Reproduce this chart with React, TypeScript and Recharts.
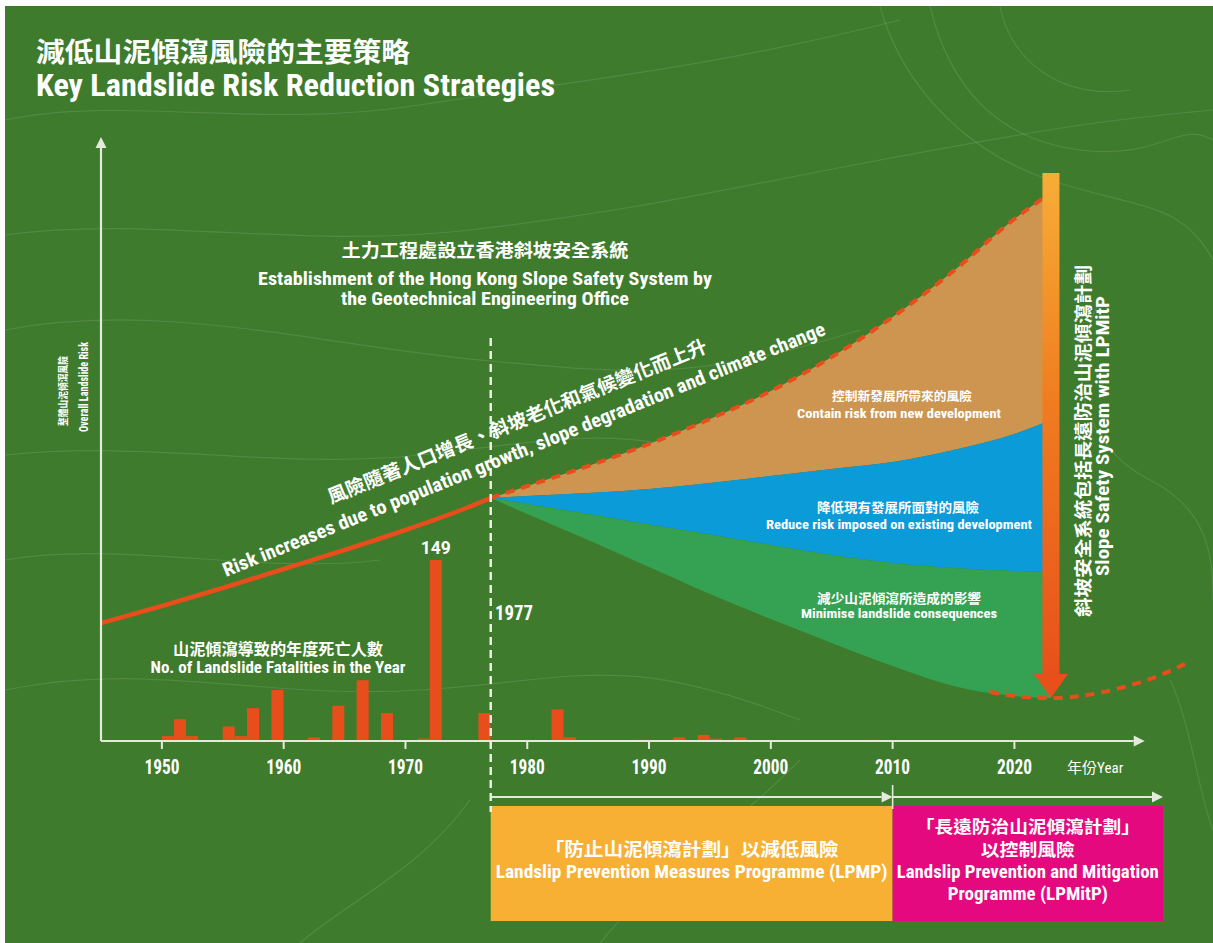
import React from 'react';
import { ComposedChart, Bar, Line, Area, XAxis, YAxis, ReferenceLine, ReferenceArea, LabelList } from 'recharts';

// ---------- data ----------
const fatalityYears = [1950, 1951, 1952, 1955, 1956, 1957, 1959, 1962, 1964, 1966, 1968, 1971, 1972, 1976, 1982, 1983, 1989, 1992, 1994, 1995, 1997, 2008];
const fatalityCounts = [4, 18, 4, 12, 4, 27, 42, 3, 29, 50, 23, 2, 149, 23, 26, 3, 1, 3, 5, 2, 3, 1];

const riskPastYears = [1945, 1950, 1955, 1960, 1965, 1970, 1975, 1977];
const riskPastValues = [118, 135, 153, 172, 191, 211, 233, 243];

const fanYears = [1977, 1980, 1985, 1990, 1995, 2000, 2005, 2010, 2015, 2020, 2023];
const riskProjected = [243, 255, 275, 297, 322, 350, 384, 424, 470, 522, 548];
const afterNewDevControl = [243, 245, 248, 252, 258, 265, 272, 279, 291, 307, 321];
const afterExistingReduction = [243, 237, 227, 216.5, 206.5, 196, 186, 178, 173, 170, 169];
const afterConsequenceMitigation = [243, 227, 201, 174, 147, 122, 98, 75, 55, 45, 43];

const residualYears = [2018, 2020, 2023, 2026, 2029, 2032, 2034];
const residualRisk = [49, 45, 43, 46, 54, 66, 77];

const xTicks = [1950, 1960, 1970, 1980, 1990, 2000, 2010, 2020];

// annotation anchors (years / risk-index units)
const axisOriginYear = 1945;
const xAxisEndYear = 2030.7;
const yAxisTopValue = 604;
const establishmentYear = 1977;
const lpmpEndYear = 2010;
const lpmitpEndYear = 2032.2;
const sssYear = 2023;
const sssTop = 568;
const sssBottom = 43;

// ---------- tables ----------
const fatalityData = fatalityYears.map((year, i) => ({ year, deaths: fatalityCounts[i] }));
const pastData = riskPastYears.map((year, i) => ({ year, risk: riskPastValues[i] }));
const fanData = fanYears.map((year, i) => ({
  year,
  top: riskProjected[i],
  ob: afterNewDevControl[i],
  bg: afterExistingReduction[i],
  bottom: afterConsequenceMitigation[i],
}));
const residualData = residualYears.map((year, i) => ({ year, risk: residualRisk[i] }));
const maxDeaths = Math.max(...fatalityCounts);

// ---------- styles ----------
const W = 1213;
const H = 943;
const EN = "'Liberation Sans Narrow','Arial Narrow','Roboto','DejaVu Sans Condensed',sans-serif";
const CJK = "'Noto Sans CJK TC','Noto Sans CJK SC',sans-serif";
const RED = '#e84e1b';
const AXIS = '#e3eadb';

function T(props: any) {
  const { x, y, s, len, a = 'middle', f = EN, w = 700, rot, children, fill = '#fff' } = props;
  return (
    <text
      x={x}
      y={y}
      fontSize={s}
      fontFamily={f}
      fontWeight={w}
      fontStretch="condensed"
      textAnchor={a}
      fill={fill}
      textLength={len}
      lengthAdjust={len ? 'spacingAndGlyphs' : undefined}
      transform={rot !== undefined ? `rotate(${rot} ${x} ${y})` : undefined}
    >
      {children}
    </text>
  );
}

const contours = [
  'M5,120 C120,95 260,130 420,105 S700,70 900,20',
  'M5,235 C150,215 300,250 470,230 S720,190 880,160 S1100,120 1213,110',
  'M5,330 C160,300 320,345 480,360 S700,380 860,330',
  'M5,455 C150,440 280,470 420,455 S620,420 760,470',
  'M5,560 C120,540 260,575 380,560',
  'M5,690 C150,660 260,700 420,690 S620,650 800,720',
  'M880,6 C900,80 960,150 1050,180 S1180,200 1213,260',
  'M930,6 C950,90 1000,140 1080,150 S1180,120 1213,140',
  'M1000,6 C1010,60 1060,100 1130,90',
  'M1100,300 C1060,380 1090,450 1150,480 S1213,560 1213,600',
  'M600,943 C650,880 720,840 800,760',
  'M300,943 C350,900 420,870 470,800',
  'M1170,680 C1190,720 1200,800 1213,830',
];

const ArrowLine = (p: any) => {
  const { x1, y1, x2, y2 } = p;
  const ang = Math.atan2(y2 - y1, x2 - x1);
  const L = 11;
  const hw = 5.5;
  const bx = x2 - L * Math.cos(ang);
  const by = y2 - L * Math.sin(ang);
  const nx = -Math.sin(ang);
  const ny = Math.cos(ang);
  return (
    <g>
      <line x1={x1} y1={y1} x2={bx} y2={by} stroke={AXIS} strokeWidth={2.2} />
      <polygon points={`${x2},${y2} ${bx + nx * hw},${by + ny * hw} ${bx - nx * hw},${by - ny * hw}`} fill={AXIS} />
    </g>
  );
};

const SssArrow = (p: any) => {
  const { x1, y1, y2 } = p;
  const hw = 8.5;
  const head = 24;
  const hhw = 17;
  return (
    <g>
      <defs>
        <linearGradient id="sssGrad" x1="0" y1="0" x2="0" y2="1">
          <stop offset="0" stopColor="#f7ad37" />
          <stop offset="0.45" stopColor="#f07d20" />
          <stop offset="1" stopColor="#e8501b" />
        </linearGradient>
      </defs>
      <rect x={x1 - hw} y={y1} width={hw * 2} height={y2 - y1 - head + 1} fill="url(#sssGrad)" />
      <polygon points={`${x1},${y2} ${x1 - hhw},${y2 - head} ${x1 + hhw},${y2 - head}`} fill="#e8501b" />
    </g>
  );
};

const DashedVertical = (p: any) => (
  <line x1={p.x1} y1={p.y1} x2={p.x2} y2={p.y2} stroke="#f2f2ea" strokeWidth={2.4} strokeDasharray="8 5" />
);

const PlainLine = (p: any) => (
  <line x1={p.x1} y1={p.y1} x2={p.x2} y2={p.y2} stroke={AXIS} strokeWidth={1.6} />
);

const LpmpBox = (p: any) => {
  const cx = p.x + p.width / 2;
  return (
    <g>
      <rect x={p.x} y={p.y} width={p.width} height={p.height} fill="#f7b033" />
      <T x={cx} y={p.y + 50} s={18} f={CJK} len={294}>「防止山泥傾瀉計劃」以減低風險</T>
      <T x={cx} y={p.y + 72} s={18} len={392}>Landslip Prevention Measures Programme (LPMP)</T>
    </g>
  );
};

const LpmitpBox = (p: any) => {
  const cx = p.x + p.width / 2;
  return (
    <g>
      <rect x={p.x} y={p.y} width={p.width} height={p.height} fill="#e4097f" />
      <T x={cx} y={p.y + 27} s={17} f={CJK} len={224}>「長遠防治山泥傾瀉計劃」</T>
      <T x={cx} y={p.y + 50} s={17} f={CJK} len={94}>以控制風險</T>
      <T x={cx} y={p.y + 72} s={17.5} len={262}>Landslip Prevention and Mitigation</T>
      <T x={cx} y={p.y + 94} s={17.5} len={160}>Programme (LPMitP)</T>
    </g>
  );
};

const BarShape = (p: any) => (
  <rect x={p.x + p.width / 2} y={p.y} width={p.width} height={Math.max(0, p.height)} fill={RED} />
);

const YearTick = (p: any) => (
  <text
    x={p.x}
    y={p.y}
    dy={25}
    textAnchor="middle"
    fill="#fff"
    fontSize={20}
    fontWeight={700}
    fontFamily={EN}
    fontStretch="condensed"
    textLength={35}
    lengthAdjust="spacingAndGlyphs"
  >
    {p.payload.value}
  </text>
);

export default function App() {
  return (
    <div style={{ position: 'absolute', left: 0, top: 0, width: W, height: H, overflow: 'hidden', background: '#fff' }}>
      <svg width={W} height={H} style={{ position: 'absolute', left: 0, top: 0 }}>
        <rect x={5} y={6} width={W - 5} height={H - 6} fill="#3e7b2d" />
        {contours.map((d, i) => (
          <path key={i} d={d} fill="none" stroke="#ffffff" strokeOpacity={0.11} strokeWidth={1.2} />
        ))}
      </svg>
      <div style={{ position: 'absolute', left: 0, top: 0 }}>
        <ComposedChart
          width={W}
          height={H}
          data={fatalityData}
          margin={{ top: 120, right: 22, bottom: 172, left: 101 }}
        >
          <XAxis
            dataKey="year"
            type="number"
            domain={[axisOriginYear, 2034.5]}
            allowDataOverflow
            ticks={xTicks}
            interval={0}
            height={30}
            axisLine={false}
            tickSize={8}
            tickMargin={0}
            tickLine={{ stroke: AXIS, strokeWidth: 2 }}
            tick={<YearTick />}
          />
          <YAxis yAxisId="fat" type="number" domain={[0, 511]} allowDataOverflow hide />
          <YAxis yAxisId="risk" type="number" domain={[0, 621]} allowDataOverflow hide />

          <Area
            yAxisId="risk"
            data={fanData}
            dataKey={(d: any) => [d.ob, d.top]}
            type="monotone"
            fill="#cd9550"
            fillOpacity={1}
            stroke="none"
            isAnimationActive={false}
            dot={false}
            activeDot={false}
          />
          <Area
            yAxisId="risk"
            data={fanData}
            dataKey={(d: any) => [d.bg, d.ob]}
            type="monotone"
            fill="#0b9bd9"
            fillOpacity={1}
            stroke="none"
            isAnimationActive={false}
            dot={false}
            activeDot={false}
          />
          <Area
            yAxisId="risk"
            data={fanData}
            dataKey={(d: any) => [d.bottom, d.bg]}
            type="monotone"
            fill="#35a253"
            fillOpacity={1}
            stroke="none"
            isAnimationActive={false}
            dot={false}
            activeDot={false}
          />

          <Bar yAxisId="fat" dataKey="deaths" barSize={12} shape={BarShape} isAnimationActive={false}>
            <LabelList
              dataKey="deaths"
              content={(p: any) =>
                Number(p.value) === maxDeaths ? (
                  <text
                    x={p.x + p.width}
                    y={p.y - 6}
                    textAnchor="middle"
                    fill="#fff"
                    fontSize={19}
                    fontWeight={700}
                    fontFamily={EN}
                    textLength={30}
                    lengthAdjust="spacingAndGlyphs"
                  >
                    {p.value}
                  </text>
                ) : null
              }
            />
          </Bar>

          <Line
            yAxisId="risk"
            data={pastData}
            dataKey="risk"
            type="monotone"
            stroke={RED}
            strokeWidth={4.5}
            dot={false}
            activeDot={false}
            isAnimationActive={false}
          />
          <Line
            yAxisId="risk"
            data={fanData}
            dataKey="top"
            type="monotone"
            stroke={RED}
            strokeWidth={4}
            strokeDasharray="9 7"
            dot={false}
            activeDot={false}
            isAnimationActive={false}
          />
          <Line
            yAxisId="risk"
            data={residualData}
            dataKey="risk"
            type="monotone"
            stroke={RED}
            strokeWidth={4}
            strokeDasharray="9 7"
            dot={false}
            activeDot={false}
            isAnimationActive={false}
          />

          <ReferenceLine
            yAxisId="risk"
            ifOverflow="visible"
            segment={[{ x: axisOriginYear, y: 0 }, { x: xAxisEndYear, y: 0 }]}
            shape={ArrowLine}
          />
          <ReferenceLine
            yAxisId="risk"
            ifOverflow="visible"
            segment={[{ x: axisOriginYear, y: 0 }, { x: axisOriginYear, y: yAxisTopValue }]}
            shape={ArrowLine}
          />
          <ReferenceLine
            yAxisId="risk"
            ifOverflow="visible"
            segment={[{ x: establishmentYear, y: 403 }, { x: establishmentYear, y: -71 }]}
            shape={DashedVertical}
          />
          <ReferenceLine
            yAxisId="risk"
            ifOverflow="visible"
            segment={[{ x: sssYear, y: sssTop }, { x: sssYear, y: sssBottom }]}
            shape={SssArrow}
          />
          <ReferenceArea
            yAxisId="risk"
            ifOverflow="visible"
            x1={establishmentYear}
            x2={lpmpEndYear}
            y1={-65}
            y2={-180}
            shape={LpmpBox}
          />
          <ReferenceArea
            yAxisId="risk"
            ifOverflow="visible"
            x1={lpmpEndYear}
            x2={lpmitpEndYear}
            y1={-65}
            y2={-180}
            shape={LpmitpBox}
          />
          <ReferenceLine
            yAxisId="risk"
            ifOverflow="visible"
            segment={[{ x: establishmentYear, y: -56 }, { x: lpmpEndYear, y: -56 }]}
            shape={ArrowLine}
          />
          <ReferenceLine
            yAxisId="risk"
            ifOverflow="visible"
            segment={[{ x: lpmpEndYear, y: -56 }, { x: lpmitpEndYear, y: -56 }]}
            shape={ArrowLine}
          />
          <ReferenceLine
            yAxisId="risk"
            ifOverflow="visible"
            segment={[{ x: lpmpEndYear, y: -44 }, { x: lpmpEndYear, y: -68 }]}
            shape={PlainLine}
          />
        </ComposedChart>
      </div>
      <svg width={W} height={H} style={{ position: 'absolute', left: 0, top: 0, pointerEvents: 'none' }}>
        <T x={36} y={62} s={27} f={CJK} a="start" len={374}>減低山泥傾瀉風險的主要策略</T>
        <T x={36} y={96} s={31} a="start" len={519}>Key Landslide Risk Reduction Strategies</T>

        <T x={485} y={257} s={18} f={CJK} len={287}>土力工程處設立香港斜坡安全系統</T>
        <T x={485} y={285} s={18} len={454}>Establishment of the Hong Kong Slope Safety System by</T>
        <T x={485} y={305} s={18} len={288}>the Geotechnical Engineering Office</T>

        <T x={331} y={504} s={19} f={CJK} a="start" len={407} rot={-22}>風險隨著人口增長、斜坡老化和氣候變化而上升</T>
        <T x={226} y={577} s={19.5} a="start" len={648} rot={-22}>Risk increases due to population growth, slope degradation and climate change</T>

        <T x={495} y={620} s={21} a="start" len={38}>1977</T>

        <T x={278} y={655} s={16} f={CJK} len={210}>山泥傾瀉導致的年度死亡人數</T>
        <T x={278} y={673} s={16} len={255}>No. of Landslide Fatalities in the Year</T>

        <T x={902} y={401} s={12.5} f={CJK} len={140}>控制新發展所帶來的風險</T>
        <T x={899} y={418} s={13.5} len={204}>Contain risk from new development</T>
        <T x={898} y={512} s={13} f={CJK} len={162}>降低現有發展所面對的風險</T>
        <T x={899} y={529} s={13.5} len={266}>Reduce risk imposed on existing development</T>
        <T x={899} y={603} s={13} f={CJK} len={164}>減少山泥傾瀉所造成的影響</T>
        <T x={899} y={618} s={13.5} len={196}>Minimise landslide consequences</T>

        <T x={67} y={391} s={10.5} f={CJK} len={70} rot={-90}>整體山泥傾瀉風險</T>
        <T x={88} y={387} s={12} len={90} rot={-90}>Overall Landslide Risk</T>

        <T x={1090} y={441} s={18} f={CJK} len={352} rot={-90}>斜坡安全系統包括長遠防治山泥傾瀉計劃</T>
        <T x={1109} y={436} s={19} len={280} rot={-90}>Slope Safety System with LPMitP</T>

        <text x={1067} y={773} fill="#fff" fontSize={15}>
          <tspan fontFamily={CJK}>年份</tspan>
          <tspan fontFamily={EN} fontStretch="condensed">Year</tspan>
        </text>
      </svg>
    </div>
  );
}
